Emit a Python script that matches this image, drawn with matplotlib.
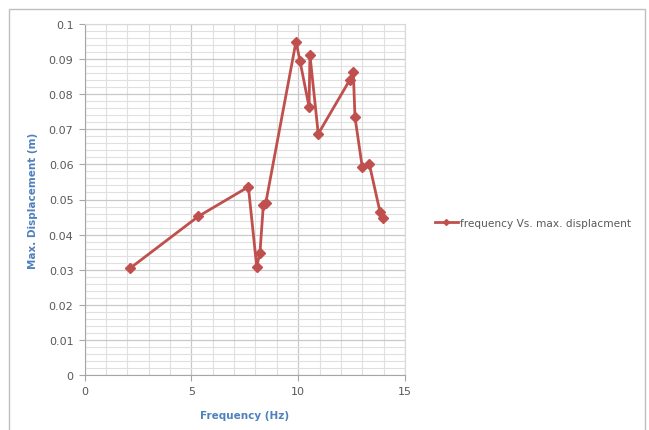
import matplotlib
matplotlib.use("Agg")
import matplotlib.pyplot as plt
from matplotlib.patches import Rectangle
from matplotlib.ticker import MultipleLocator

freq = [2.13, 5.33, 7.67, 8.06, 8.21, 8.37, 8.48, 9.90, 10.08, 10.51, 10.55, 10.94,
        12.42, 12.58, 12.66, 13.00, 13.33, 13.83, 13.95]
disp = [0.0304, 0.0452, 0.0536, 0.0309, 0.0347, 0.0484, 0.0489, 0.0950, 0.0896, 0.0764,
        0.0912, 0.0687, 0.0841, 0.0864, 0.0734, 0.0592, 0.0601, 0.0465, 0.0447]
series_name = "frequency Vs. max. displacment"
x_label = "Frequency (Hz)"
y_label = "Max. Displacement (m)"

W, H = 649, 431
fig = plt.figure(figsize=(W / 100, H / 100), dpi=100)
fig.patch.set_facecolor("white")

# outer chart border
fig.patches.append(Rectangle((9 / W, -0.05), (645 - 9) / W, 1 - 10 / H + 0.05,
                             transform=fig.transFigure, fill=False,
                             edgecolor="#bfbfbf", linewidth=1.0))

ax = fig.add_axes([84.5 / W, 1 - 376 / H, (405 - 84.5) / W, (376 - 25) / H])
ax.set_xlim(0, 15)
ax.set_ylim(0, 0.1)

ax.xaxis.set_major_locator(MultipleLocator(5))
ax.xaxis.set_minor_locator(MultipleLocator(1))
ax.yaxis.set_major_locator(MultipleLocator(0.01))
ax.yaxis.set_minor_locator(MultipleLocator(0.002))

ax.grid(which="minor", color="#e0e0e0", linewidth=0.8)
ax.grid(which="major", color="#c8c8c8", linewidth=0.9)
ax.set_axisbelow(True)

ax.set_xticks([0, 5, 10, 15])
ax.set_xticklabels(["0", "5", "10", "15"])
yt = [i / 100 for i in range(11)]
ax.set_yticks(yt)
ax.set_yticklabels(["0"] + [f"{v:g}" for v in yt[1:]])

ax.tick_params(which="major", length=4, color="#a6a6a6", labelsize=8,
               labelcolor="#595959", pad=4)
ax.tick_params(which="minor", length=0)

for s in ["left", "bottom"]:
    ax.spines[s].set_color("#a6a6a6")
for s in ["top", "right"]:
    ax.spines[s].set_color("#d9d9d9")

line, = ax.plot(freq, disp, color="#c0504d", linewidth=2, marker="D",
                markersize=5, label=series_name, clip_on=False)

lab_font = ["Liberation Sans Narrow", "DejaVu Sans"]
ax.set_xlabel(x_label, fontsize=7.5, fontweight="bold", color="#4f81bd",
              labelpad=10, family=lab_font)
ax.set_ylabel(y_label, fontsize=7.5, fontweight="bold", color="#4f81bd",
              labelpad=8, family=lab_font)

fig.legend(handles=[line], labels=[series_name], loc="center left",
           bbox_to_anchor=(425 / W, 1 - 224 / H), frameon=False, fontsize=7.6,
           labelcolor="#595959", handlelength=2.2, handletextpad=0.2,
           markerscale=0.6)

fig.savefig("out.png", dpi=100)
